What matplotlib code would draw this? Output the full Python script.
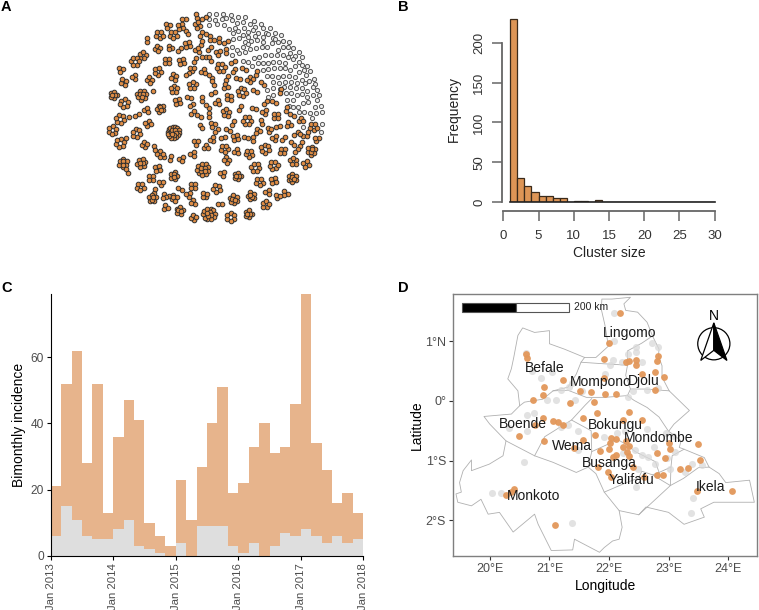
import numpy as np
import matplotlib
matplotlib.use('Agg')
import matplotlib.pyplot as plt
import matplotlib.patches as mpatches

plt.rcParams['font.family'] = ['Liberation Sans', 'DejaVu Sans']

W, H = 759, 610

### Panel A data: single cases (grey) and transmission clusters (x, y, size)
single_x = [628,648,668,694,715,736,763,783,810,826,844,866,880,896,905,921,931,941,946,952,957,963,965,965,964,
            628,646,665,679,697,712,730,751,766,790,797,818,833,849,863,870,886,898,911,918,927,938,938,950,945,948,930,935,908,
            628,650,672,686,705,715,733,745,760,775,790,805,815,826,850,833,848,865,880,886,905,898,915,920,905,922,925,910,895,912,897,880,868,880,862,890,905,872,858,887,870,852,840,890,873,855,838,820,905,885,868,850,833,815,802,870,855,840,822,805,790,855,837,820,805,790,775,757,830,812,795,778,762,745,728,785,800,768,750,735,718,697,700,718,735,752,770,790,712,695,728,745,700,745,765,730,800,820,820,805]
single_y = [41,42,43,44,50,52,62,71,85,98,106,127,143,155,170,197,213,237,253,269,285,317,337,372,395,
            58,59,57,54,60,69,67,72,80,85,98,114,126,124,140,158,167,185,211,226,243,260,285,300,320,338,340,355,380,
            76,73,74,88,84,93,83,95,90,100,110,102,130,117,142,150,165,172,178,198,195,215,250,272,263,290,305,310,320,335,337,322,318,300,300,285,282,280,278,265,262,262,267,248,245,245,248,247,240,230,228,228,230,228,228,210,205,205,205,207,210,190,185,185,188,190,190,197,165,165,165,170,175,185,183,140,140,145,148,155,160,165,118,113,125,122,120,125,150,140,140,132,100,110,107,105,270,265,285,290]

cluster_x = [552,590,613,504,542,592,478,520,561,603,623,441,472,510,538,562,604,637,657,679,592,628,654,679,428,404,502,544,585,611,630,700,363,402,473,577,610,662,702,733,769,449,521,562,632,681,715,750,370,787,458,425,522,577,640,677,764,842,340,725,638,371,532,566,605,652,687,797,821,859,439,481,574,622,720,763,360,410,388,577,596,627,678,793,829,875,444,740,785,903,638,698,866,940,337,603,650,685,808,835,773,888,905,923,520,409,950,636,707,737,760,669,823,851,589,360,379,433,618,877,902,673,795,709,848,889,747,934,578,463,475,487,512,544,680,880,821,766,918,369,424,381,609,473,522,712,668,877,454,821,778,484,421,579,650,540,464,803,856,565,753,833,514,493,525,614,457,701,578,660,797,497,539,627,745,580,692]
cluster_y = [58,47,55,76,80,75,105,105,98,102,105,120,146,143,148,133,130,120,120,125,150,145,158,153,166,184,183,184,180,170,178,185,210,231,214,207,213,202,211,208,218,240,231,222,229,234,236,239,246,250,274,285,267,255,248,260,272,272,285,277,280,310,305,292,297,307,292,307,307,327,330,326,315,320,323,325,357,344,350,337,348,345,338,337,347,344,370,362,365,360,373,368,372,381,391,380,391,389,388,380,393,400,405,403,397,399,417,418,413,413,418,413,415,415,427,430,413,434,441,430,433,446,446,455,453,452,461,452,461,445,458,468,474,477,480,483,496,503,492,489,489,513,508,505,527,528,521,535,534,541,546,549,560,558,565,566,572,575,580,584,587,589,590,590,595,586,595,598,607,612,613,622,632,642,641,652,652]
cluster_n = [2,2,2,3,4,4,5,5,2,2,2,2,4,3,2,4,2,2,2,2,3,2,3,2,5,6,4,4,2,2,2,2,3,3,5,3,3,6,2,2,2,4,4,2,2,2,2,4,4,2,1,10,5,5,2,3,2,2,7,6,2,6,4,2,2,3,4,2,2,2,3,7,2,2,2,2,6,2,1,2,2,2,5,3,4,2,4,6,2,3,3,2,3,5,6,2,2,2,3,2,3,2,2,2,20,6,3,3,4,2,2,2,3,2,3,6,1,4,3,2,2,5,6,3,4,2,5,8,3,2,2,3,2,3,4,5,6,6,4,8,8,2,13,4,7,7,3,9,4,4,5,3,5,4,5,2,2,3,3,3,7,3,3,3,3,4,7,8,3,2,5,3,7,14,7,4,6]

### Panel B data
size_left = list(range(1, 30))
size_freq = [230,31,21,13,8,8,6,5,1,2,2,0,3,1,1,0,0,1,1,0,0,0,0,0,0,0,0,0,1]

### Panel C data
year_labels = ['Jan 2013','Jan 2014','Jan 2015','Jan 2016','Jan 2017','Jan 2018']
total_cases = [21,52,62,28,52,13,36,47,41,10,6,3,23,11,27,40,51,19,22,33,40,31,33,46,79,34,26,16,19,13]
grey_cases = [6,15,11,6,5,5,8,11,3,2,1,0,4,0,9,9,9,3,1,4,0,3,7,6,8,6,4,6,4,5]

### Panel D data
orange_lon = [22.18,22.00,20.62,20.61,21.92,22.82,22.80,22.28,22.34,22.46,22.45,22.77,22.56,22.92,21.22,20.90,20.89,20.72,21.51,21.70,21.93,22.11,22.77,21.92,21.34,21.74,21.79,22.34,21.56,20.89,21.06,21.15,21.22,22.24,22.56,20.49,20.90,21.56,21.77,21.85,22.04,22.11,22.02,22.00,22.23,22.34,22.29,22.30,22.06,22.11,22.34,22.80,22.94,23.02,23.00,23.49,23.53,23.19,23.32,22.40,21.82,21.99,22.04,22.81,22.90,22.59,23.47,24.06,20.41,20.35,20.27,21.10,21.42,20.76]
orange_lat = [1.48,0.97,0.72,0.79,0.71,0.76,0.67,0.65,0.67,0.68,0.60,0.49,0.45,0.41,0.35,0.23,0.10,0.02,0.17,0.15,0.11,0.11,0.19,0.38,-0.04,-0.01,-0.20,-0.19,-0.29,-0.29,-0.33,-0.36,-0.40,-0.32,-0.32,-0.59,-0.68,-0.65,-0.57,-0.84,-0.63,-0.64,-0.71,-0.81,-0.77,-0.76,-0.67,-0.85,-0.94,-0.91,-0.93,-0.88,-0.96,-0.81,-0.71,-0.72,-0.99,-1.14,-1.12,-1.10,-1.10,-1.19,-1.27,-1.24,-1.25,-1.28,-1.51,-1.51,-1.48,-1.52,-1.58,-2.09,-0.79,-0.40]
grey_lon = [22.09,22.09,20.61,22.83,22.72,22.46,22.45,22.32,22.06,22.01,22.21,22.55,21.93,20.85,21.05,20.70,21.20,21.32,21.37,21.54,22.40,22.63,22.83,22.32,20.96,21.11,21.43,20.74,20.62,20.32,20.62,21.20,21.31,21.48,21.92,22.13,22.27,22.63,22.95,23.08,22.44,22.75,23.10,22.55,22.66,22.77,22.97,23.03,23.28,23.39,23.56,20.57,22.46,22.48,20.04,20.18,23.41,23.38,21.38,21.48,22.24]
grey_lat = [1.47,1.01,0.81,0.91,0.97,0.90,0.82,0.78,0.68,0.60,0.65,0.65,0.46,0.39,0.49,0.51,0.18,0.24,0.30,0.16,0.17,0.18,0.21,0.06,0.01,0.02,0.01,-0.20,-0.24,-0.46,-0.50,-0.44,-0.41,-0.51,-0.60,-0.54,-0.51,-0.47,-0.53,-0.58,-0.82,-0.78,-0.85,-0.91,-0.94,-1.05,-0.96,-1.14,-1.20,-1.05,-1.07,-1.03,-1.45,-1.15,-1.54,-1.54,-1.63,-1.88,-2.04,-0.83,-0.88]

zone_names = ['Lingomo','Befale','Mompono','Djolu','Boende','Bokungu','Mondombe','Wema','Busanga','Yalifafu','Ikela','Monkoto']
zone_lon = [22.35,20.92,21.86,22.59,20.56,22.10,22.84,21.37,22.00,22.38,23.71,20.74]
zone_lat = [1.14,0.56,0.31,0.33,-0.39,-0.41,-0.63,-0.76,-1.04,-1.32,-1.45,-1.60]

# boundaries of the health zones, lon and lat pairs
outer_border = [(21.87,1.54),(21.88,1.71),(22.05,1.71),(22.36,1.74),(22.25,1.63),(22.28,1.52),(22.48,1.49),(22.64,1.32),(22.73,1.09),(22.84,0.87),(22.83,0.76),(22.89,0.59),(22.89,0.40),(23.01,0.17),(23.35,-0.16),(23.09,-0.39),(23.00,-0.51),(23.06,-0.55),(23.21,-0.67),(23.18,-0.78),(23.26,-0.81),(23.60,-0.95),(23.68,-1.11),(23.85,-1.22),(23.96,-1.37),(24.36,-1.33),(24.44,-1.70),(23.76,-1.70),(23.54,-1.81),(23.60,-1.95),(23.26,-2.07),(23.00,-1.87),(22.62,-1.78),(22.50,-1.91),(22.17,-1.84),(22.22,-2.12),(22.17,-2.32),(22.06,-2.35),(21.92,-2.46),(21.84,-2.54),(21.42,-2.32),(21.39,-2.50),(21.03,-2.51),(20.81,-2.07),(20.75,-1.90),(20.39,-2.20),(20.16,-1.87),(19.97,-1.90),(19.85,-1.65),(19.69,-1.76),(19.46,-1.70),(19.43,-1.56),(19.52,-1.53),(19.49,-1.37),(19.55,-1.17),(19.69,-0.99),(19.69,-1.17),(19.99,-1.06),(20.22,-0.92),(20.27,-0.67),(19.995,-0.386),(19.90,-0.26),(20.36,-0.22),(20.50,-0.08),(20.47,0.17),(20.30,0.37),(20.36,0.54),(20.40,0.73),(20.47,1.10),(20.55,1.226),(20.75,1.15),(21.00,1.18),(21.00,0.96),(21.25,0.87),(21.59,0.73),(21.78,0.73),(21.99,0.92),(21.93,1.28),(21.87,1.54)]
zone_lines = [
    [(20.27,-0.67),(20.75,-0.92),(21.06,-1.03),(21.45,-1.20),(21.65,-1.11),(21.78,-1.22),(21.92,-1.53),(22.17,-1.84)],
    [(20.75,-0.92),(20.92,-0.60),(21.37,-0.32),(21.60,-0.07),(21.71,0.04)],
    [(20.50,-0.08),(20.58,-0.02),(20.89,0.03),(21.06,0.17),(21.31,0.23),(21.45,0.45),(21.53,0.65),(21.59,0.73)],
    [(21.06,0.17),(21.31,0.18),(21.62,0.06),(21.92,0.06),(22.31,0.09)],
    [(21.53,0.65),(21.82,0.63),(22.31,0.60),(22.31,0.84),(22.55,0.97),(22.73,1.09)],
    [(22.31,0.60),(22.28,0.43),(22.36,0.20),(22.31,0.09),(22.42,0.01),(22.64,-0.11),(22.84,-0.27),(23.00,-0.51)],
    [(22.36,0.20),(22.60,0.20),(23.01,0.17)],
    [(21.37,-0.32),(21.70,-0.50),(21.71,-0.85),(21.65,-1.11)],
    [(21.71,-0.85),(22.15,-0.65),(22.32,-0.75),(22.44,-0.85),(22.78,-1.02),(22.84,-1.20),(23.04,-1.11),(23.06,-0.92),(23.26,-0.81)],
    [(21.92,-1.53),(22.27,-1.38),(22.50,-1.29),(22.55,-1.18),(22.73,-1.24),(23.03,-1.42),(22.50,-1.91)],
    [(22.84,-1.20),(22.73,-1.24)],
    [(23.04,-1.11),(23.03,-1.42),(23.25,-1.30),(23.50,-1.12),(23.68,-1.11)],
]


def px_axes(left, top, right, bottom):
    # axes placed by pixel edges of the figure
    return fig.add_axes([left / W, 1 - bottom / H, (right - left) / W, (bottom - top) / H])


fig = plt.figure(figsize=(W / 100, H / 100), dpi=100)

### Panel A -----------------------------------------------------------------------------
axA = px_axes(0, 0, 380, 270)
axA.set_xlim(0, 1140)
axA.set_ylim(810, 0)
axA.axis('off')
axA.scatter(single_x, single_y, s=9, facecolor='#ececec', edgecolor='#555555', linewidth=0.7)

member_x, member_y = [], []
for i, (cx, cy, n) in enumerate(zip(cluster_x, cluster_y, cluster_n)):
    # members sit on rings around the cluster centre
    inner = 0 if n < 7 else n // 3
    rings = [(n - inner, 1.0)] + ([(inner, 0.42)] if inner else [])
    outer_r = 0 if n == 1 else max(6.5, 12 / (2 * np.sin(np.pi / max(n - inner, 2))))
    outer_r = min(outer_r, 17)
    for count, frac in rings:
        for k in range(count):
            a = i * 1.3 + 2 * np.pi * k / count
            member_x.append(cx + outer_r * frac * np.cos(a))
            member_y.append(cy + outer_r * frac * np.sin(a))
axA.scatter(member_x, member_y, s=11, facecolor='#e08d45', edgecolor='#2e2e2e', linewidth=0.7)

### Panel B -----------------------------------------------------------------------------
axB = px_axes(503.3, 15, 714.7, 202.3)
axB.bar(size_left, size_freq, width=1, align='edge', color='#dd9556', edgecolor='#3a2a1a', linewidth=0.9)
axB.plot([1, 30], [0, 0], color='#222222', lw=1.2, clip_on=False)
axB.set_xlim(0, 30)
axB.set_ylim(0, 234.6)
axB.patch.set_alpha(0)
for s in ['top', 'right']:
    axB.spines[s].set_visible(False)
axB.spines['left'].set_position(('outward', 1))
axB.spines['bottom'].set_position(('outward', 6))
axB.spines['left'].set_bounds(0, 200)
axB.spines['bottom'].set_bounds(0, 30)
for s in ['left', 'bottom']:
    axB.spines[s].set_color('#666666')
    axB.spines[s].set_linewidth(1.3)
axB.set_xticks([0, 5, 10, 15, 20, 25, 30])
axB.set_yticks([0, 50, 100, 150, 200])
axB.tick_params(length=7, width=1.1, color='#666666', labelcolor='#333333', labelsize=9.5, pad=5)
axB.tick_params(axis='x', pad=7)
axB.tick_params(axis='y', labelrotation=90)
for lab in axB.get_yticklabels():
    lab.set_va('center')
axB.set_xlabel('Cluster size', fontsize=10, color='#222222', labelpad=3)
axB.set_ylabel('Frequency', fontsize=10, color='#222222', labelpad=9)

### Panel C -----------------------------------------------------------------------------
axC = px_axes(50.7, 294.3, 363.3, 556)
bins = np.arange(len(total_cases))
axC.bar(bins, total_cases, width=1, align='edge', color='#e7b48c', linewidth=0)
axC.bar(bins, grey_cases, width=1, align='edge', color='#dedede', linewidth=0)
axC.set_xlim(0, 30)
axC.set_ylim(0, 79)
for s in ['top', 'right']:
    axC.spines[s].set_visible(False)
axC.set_xticks(np.arange(0, 31, 6))
axC.set_xticklabels(year_labels, rotation=90, fontsize=8.2, color='#4d4d4d')
axC.set_yticks([0, 20, 40, 60])
axC.tick_params(axis='y', labelsize=8.6, labelcolor='#4d4d4d', length=3, pad=2)
axC.tick_params(axis='x', length=3, pad=2)
axC.set_ylabel('Bimonthly incidence', fontsize=10, labelpad=3)

### Panel D -----------------------------------------------------------------------------
axD = px_axes(453, 294.3, 757.3, 555.7)
axD.set_xlim(19.38, 24.49)
axD.set_ylim(-2.597, 1.79)
outer_arr = np.array(outer_border)
axD.plot(outer_arr[:, 0], outer_arr[:, 1], color='#b0b0b0', lw=0.6)
for line in zone_lines:
    line_arr = np.array(line)
    axD.plot(line_arr[:, 0], line_arr[:, 1], color='#b0b0b0', lw=0.6)
axD.scatter(grey_lon, grey_lat, s=26, color='#d9d9d9', alpha=0.75, linewidth=0, zorder=3)
axD.scatter(orange_lon, orange_lat, s=24, color='#e2975a', alpha=0.95, linewidth=0, zorder=4)
for name, lon, lat in zip(zone_names, zone_lon, zone_lat):
    axD.text(lon, lat, name, fontsize=10, ha='center', va='center', color='#1a1a1a', zorder=5)

# scale bar
axD.add_patch(mpatches.Rectangle((19.53, 1.495), 0.905, 0.15, facecolor='black', edgecolor='#555555', lw=0.8, zorder=5))
axD.add_patch(mpatches.Rectangle((20.435, 1.495), 0.89, 0.15, facecolor='white', edgecolor='#555555', lw=0.8, zorder=5))
axD.text(21.42, 1.57, '200 km', fontsize=7.5, va='center', color='#222222')

# north arrow
axD.add_patch(mpatches.Ellipse((23.76, 0.96), 0.54, 0.54, facecolor='none', edgecolor='black', lw=0.9, zorder=5))
axD.add_patch(mpatches.Polygon([(23.76, 1.31), (23.54, 0.68), (23.76, 0.85)], closed=True, facecolor='white', edgecolor='black', lw=0.9, zorder=6))
axD.add_patch(mpatches.Polygon([(23.76, 1.31), (23.98, 0.68), (23.76, 0.85)], closed=True, facecolor='black', edgecolor='black', lw=0.9, zorder=6))
axD.text(23.76, 1.43, 'N', fontsize=10, ha='center', va='center')

axD.set_xticks([20, 21, 22, 23, 24])
axD.set_xticklabels(['20°E', '21°E', '22°E', '23°E', '24°E'])
axD.set_yticks([-2, -1, 0, 1])
axD.set_yticklabels(['2°S', '1°S', '0°', '1°N'])
axD.tick_params(labelsize=9, labelcolor='#4d4d4d', color='#333333', length=3, pad=2)
for s in axD.spines.values():
    s.set_color('#7f7f7f')
    s.set_linewidth(1.0)
axD.set_xlabel('Longitude', fontsize=10, labelpad=3)
axD.set_ylabel('Latitude', fontsize=10, labelpad=1)

### Panel letters
for letter, x, y in [('A', 1, 7), ('B', 398, 7), ('C', 1, 288), ('D', 398, 288)]:
    fig.text(x / W, 1 - y / H, letter, fontsize=10.5, fontweight='bold', ha='left', va='center')

fig.savefig('out.png', dpi=100)
